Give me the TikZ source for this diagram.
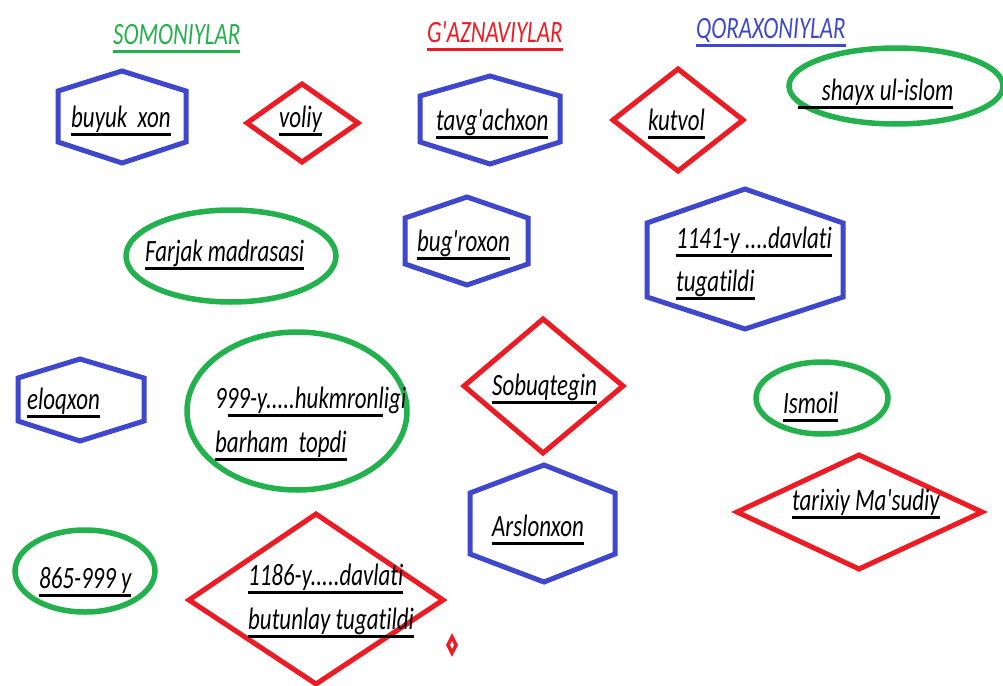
\documentclass[tikz,border=0pt]{standalone}
\usepackage{fontspec}
\setmainfont{Carlito}[Ligatures={TeXOff,NoCommon}]
\usepackage{graphicx}
\definecolor{pblue}{RGB}{63,72,204}
\definecolor{pred}{RGB}{237,28,36}
\definecolor{pgreen}{RGB}{34,177,76}
\newcommand\ulx[1]{\setbox0=\hbox{#1}\rlap{\rule[-8.5pt]{\wd0}{3pt}}\box0}
\newcommand\ut[1]{\scalebox{0.74}[1]{\ulx{#1}}}
\newcommand\utc[3]{\rlap{\hspace{#1}\rule[-8.5pt]{#2}{3pt}}\scalebox{0.74}[1]{#3}}
\newcommand\hexshape[7]{\draw[hexline] (#7,#3) -- (#2,#5) -- (#2,#6) -- (#7,#4) -- (#1,#6) -- (#1,#5) -- cycle;}
\newcommand\diashape[6]{\draw[dialine] (#6,#3) -- (#2,#5) -- (#6,#4) -- (#1,#5) -- cycle;}
\tikzset{
  hexline/.style={draw=pblue, line width=5pt, line join=miter},
  dialine/.style={draw=pred, line width=5pt, line join=miter},
  elline/.style={draw=pgreen, line width=5.5pt},
  txt/.style={anchor=base west, inner sep=0pt, text=black, font=\fontsize{31}{36}\selectfont\itshape},
}
\begin{document}
\begin{tikzpicture}[x=1pt,y=-1pt]
\useasboundingbox (0,0) rectangle (1003,685);
\fill[white] (0,0) rectangle (1003,685);

% hexagons
\hexshape{58}{186}{71}{163}{91}{142}{122}
\hexshape{420}{560}{76}{164}{96}{142}{490}
\hexshape{405}{528}{197}{285}{218}{264}{467}
\hexshape{647}{843}{189}{329}{223}{297}{745}
\hexshape{18}{144}{359}{441}{378}{421}{80}
\hexshape{470}{615}{465}{582}{493}{554}{544}

% diamonds
\diashape{247}{358}{84}{162}{123}{302}
\diashape{613}{743}{69}{171}{120}{678}
\diashape{464}{623}{319}{453}{386}{543}
\diashape{737}{982}{455}{569}{512}{859}
\diashape{189}{443}{514}{684}{600}{316}
\draw[dialine, line width=3.5pt] (452,637) -- (456,645) -- (452,653) -- (448,645) -- cycle;

% ellipses
\draw[elline] (896,86) ellipse [x radius=107, y radius=38];
\draw[elline] (231,256) ellipse [x radius=105, y radius=46];
\draw[elline] (297,411) ellipse [x radius=110, y radius=79];
\draw[elline] (822,398) ellipse [x radius=66, y radius=36];
\draw[elline] (85,571) ellipse [x radius=70, y radius=41];

% titles
\node[txt, text=pgreen] (somon) at (113,45) {\ut{SOMONIYLAR}};
\node[txt, text=pred] (gazna) at (427,43) {\ut{G'AZNAVIYLAR}};
\node[txt, text=pblue] (qorax) at (696,38) {\ut{QORAXONIYLAR}};

% texts
\node[txt] (buyuk) at (71,127) {\ut{buyuk\hspace{0.45em}xon}};
\node[txt] (voliy) at (279,127) {\ut{voliy}};
\node[txt] (tavg) at (436,130) {\ut{tavg'achxon}};
\node[txt] (kutvol) at (648,130) {\ut{kutvol}};
\node[txt] (shayx) at (798,100) {\ut{\hspace{32pt}shayx ul-islom}};
\node[txt] (farjak) at (145,261) {\ut{Farjak madrasasi}};
\node[txt] (bugr) at (417,251) {\ut{bug'roxon}};
\node[txt] (d1141a) at (676,248) {\ut{1141-y ....davlati}};
\node[txt] (d1141b) at (676,291) {\ut{tugatildi}};
\node[txt] (eloq) at (27,409) {\ut{eloqxon}};
\node[txt] (h999a) at (215,408) {\utc{13pt}{155pt}{999-y.....hukmronligi}};
\node[txt] (h999b) at (215,452) {\ut{barham\hspace{0.45em}topdi}};
\node[txt] (sobuq) at (492,395) {\ut{Sobuqtegin}};
\node[txt] (arslon) at (492,536) {\ut{Arslonxon}};
\node[txt] (ismoil) at (783,413) {\ut{Ismoil}};
\node[txt] (tarix) at (792,510) {\ut{tarixiy Ma'sudiy}};
\node[txt] (y865) at (39,588) {\ut{865-999 y}};
\node[txt] (d1186a) at (248,585) {\ut{1186-y.....davlati}};
\node[txt] (d1186b) at (248,629) {\ut{butunlay tugatildi}};
\end{tikzpicture}
\end{document}
